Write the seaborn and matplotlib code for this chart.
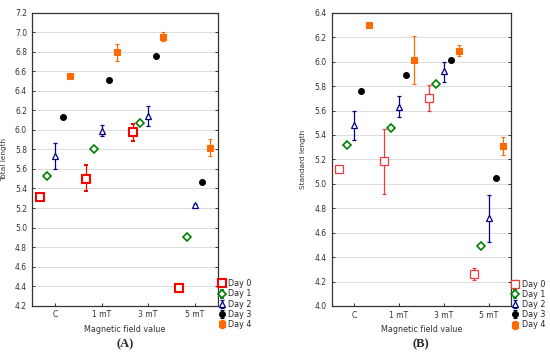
import numpy as np
import pandas as pd
import matplotlib
matplotlib.use("Agg")
import matplotlib.pyplot as plt
import seaborn as sns

# Data
fields = ['C', '1 mT', '3 mT', '5 mT']
days = ['Day 0', 'Day 1', 'Day 2', 'Day 3', 'Day 4']

# Total length (A): mean, lower and upper error limits per day, in order of fields
total_mean = {
    'Day 0': [5.31, 5.50, 5.98, 4.38],
    'Day 1': [5.53, 5.80, 6.07, 4.90],
    'Day 2': [5.73, 5.99, 6.14, 5.23],
    'Day 3': [6.13, 6.51, 6.76, 5.47],
    'Day 4': [6.55, 6.80, 6.95, 5.81],
}
total_low = {
    'Day 0': [5.30, 5.37, 5.89, 4.37],
    'Day 1': [5.52, 5.79, 6.06, 4.89],
    'Day 2': [5.60, 5.94, 6.04, 5.22],
    'Day 3': [6.13, 6.50, 6.75, 5.46],
    'Day 4': [6.54, 6.71, 6.91, 5.73],
}
total_high = {
    'Day 0': [5.32, 5.64, 6.06, 4.39],
    'Day 1': [5.54, 5.81, 6.08, 4.91],
    'Day 2': [5.87, 6.05, 6.25, 5.24],
    'Day 3': [6.14, 6.52, 6.77, 5.48],
    'Day 4': [6.56, 6.88, 7.00, 5.91],
}

# Standard length (B)
std_mean = {
    'Day 0': [5.12, 5.19, 5.70, 4.26],
    'Day 1': [5.32, 5.46, 5.82, 4.49],
    'Day 2': [5.48, 5.63, 5.92, 4.72],
    'Day 3': [5.76, 5.89, 6.01, 5.05],
    'Day 4': [6.30, 6.01, 6.09, 5.31],
}
std_low = {
    'Day 0': [5.11, 4.92, 5.60, 4.21],
    'Day 1': [5.31, 5.45, 5.81, 4.48],
    'Day 2': [5.36, 5.55, 5.83, 4.52],
    'Day 3': [5.75, 5.88, 6.00, 5.04],
    'Day 4': [6.29, 5.82, 6.05, 5.24],
}
std_high = {
    'Day 0': [5.13, 5.45, 5.81, 4.31],
    'Day 1': [5.33, 5.47, 5.83, 4.50],
    'Day 2': [5.60, 5.72, 6.00, 4.91],
    'Day 3': [5.77, 5.90, 6.02, 5.06],
    'Day 4': [6.31, 6.21, 6.14, 5.38],
}

sns.set_style("whitegrid")
plt.rcParams['font.family'] = ['DejaVu Sans']

styles = {
    'Day 0': dict(marker='s', color='#ff0000', mfc='white', ms=5.2, mew=1.3),
    'Day 1': dict(marker='D', color='#008000', mfc='white', ms=4.0, mew=1.2),
    'Day 2': dict(marker='^', color='#000080', mfc='white', ms=4.8, mew=0.9),
    'Day 3': dict(marker='o', color='black', mfc='black', ms=4.2, mew=0.8),
    'Day 4': dict(marker='s', color='#ff6a00', mfc='#ff6a00', ms=4.6, mew=0.8),
}
offsets = [-0.33, -0.165, 0.0, 0.165, 0.33]

fig = plt.figure(figsize=(5.5, 3.57), dpi=100)
axA = fig.add_axes([0.058, 0.144, 0.338, 0.820])
axB = fig.add_axes([0.603, 0.143, 0.326, 0.821])


def draw(ax, mean, low, high, ylim, yticks, ylabel, tag, red, red_edge):
    x = np.arange(len(fields))
    for off, d in zip(offsets, days):
        m = np.array(mean[d])
        err = np.vstack([m - np.array(low[d]), np.array(high[d]) - m])
        st = dict(styles[d])
        if d == 'Day 0':
            st['mew'] = red_edge
            st['color'] = red
        ax.errorbar(x + off, m, yerr=err, linestyle='none', elinewidth=0.9,
                    capsize=1.2, capthick=0.7, label=d, **st)
    ax.set_xlim(-0.5, 3.5)
    ax.set_ylim(*ylim)
    ax.set_xticks(x)
    ax.set_xticklabels(fields)
    ax.set_yticks(yticks)
    ax.set_yticklabels([f'{v:.1f}' for v in yticks])
    ax.grid(axis='x', visible=False)
    ax.grid(axis='y', color='#dcdcdc', linewidth=0.7)
    for s in ax.spines.values():
        s.set_color('#333333')
        s.set_linewidth(0.9)
    ax.tick_params(axis='both', labelsize=5.5, colors='#333333', length=2.5,
                   width=0.7, direction='in', right=True, left=True, bottom=True)
    ax.set_xlabel('Magnetic field value', fontsize=5.8, color='#333333', labelpad=4)
    ax.set_ylabel(ylabel, fontsize=5.3, color='#333333', labelpad=6)
    ax.legend(loc='lower left', bbox_to_anchor=(1.005, -0.08), frameon=False,
              fontsize=5.8, handlelength=0.9, handletextpad=0.3,
              labelspacing=0.15, borderaxespad=0, borderpad=0)
    ax.text(0.5, -0.131, tag, transform=ax.transAxes, ha='center', va='center',
            fontsize=9, fontweight='bold', family='Liberation Serif')


draw(axA, total_mean, total_low, total_high, (4.2, 7.2),
     np.arange(4.2, 7.21, 0.2), 'Total length', '(A)', '#ff0000', 1.5)
draw(axB, std_mean, std_low, std_high, (4.0, 6.4),
     np.arange(4.0, 6.41, 0.2), 'Standard length', '(B)', '#f23a3a', 0.9)

fig.savefig('out.png', dpi=100)
